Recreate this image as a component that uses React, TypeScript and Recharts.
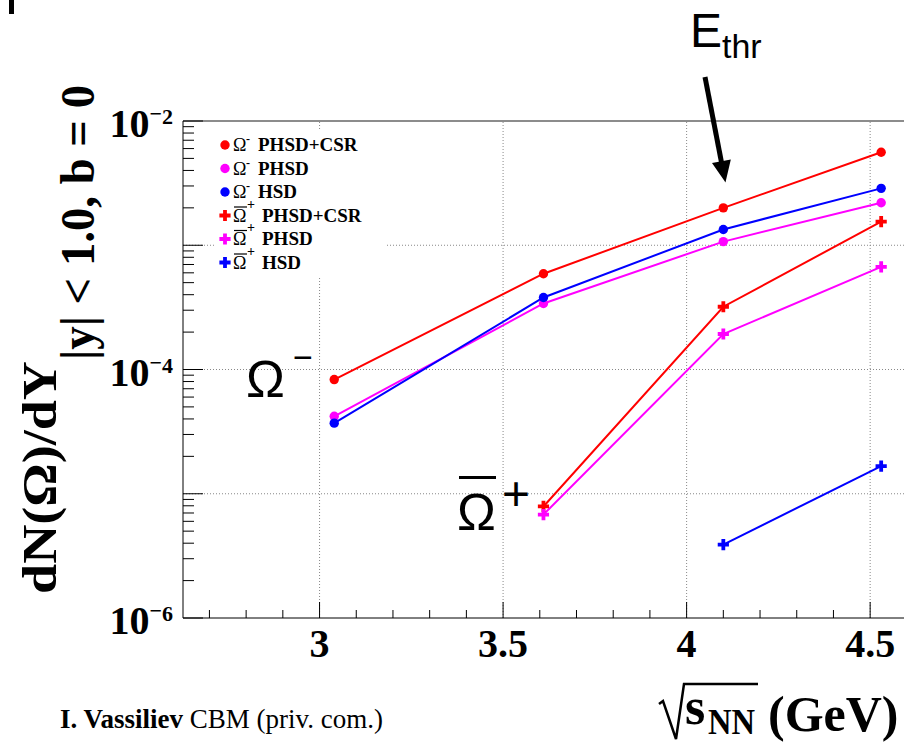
import React from "react";
import { LineChart, Line, XAxis, YAxis, ReferenceLine } from "recharts";

// sqrt(s_NN) in GeV
const energies = [3.04, 3.61, 4.1, 4.53];

// dN/dY of Omega- and anti-Omega+
const omegaCsr = [8.3e-5, 5.9e-4, 2.0e-3, 5.6e-3];
const omegaPhsd = [4.2e-5, 3.4e-4, 1.07e-3, 2.2e-3];
const omegaHsd = [3.7e-5, 3.8e-4, 1.34e-3, 2.87e-3];
const antiCsr = [null, 7.9e-6, 3.2e-4, 1.55e-3];
const antiPhsd = [null, 6.8e-6, 1.93e-4, 6.7e-4];
const antiHsd = [null, null, 3.9e-6, 1.67e-5];

const xMajorTicks = [3, 3.5, 4, 4.5];
const xMinorTicks = [2.7, 2.8, 2.9, 3.1, 3.2, 3.3, 3.4, 3.6, 3.7, 3.8, 3.9, 4.1, 4.2, 4.3, 4.4, 4.6];
const yDecades = [1e-6, 1e-5, 1e-4, 1e-3, 1e-2];
const yLabelled = [1e-6, 1e-4, 1e-2];
const yMinorSteps = [2, 3, 4, 5, 6, 7, 8, 9];

const seriesKeys = ["omegaCsr", "omegaPhsd", "omegaHsd", "antiCsr", "antiPhsd", "antiHsd"];
const seriesValues = [omegaCsr, omegaPhsd, omegaHsd, antiCsr, antiPhsd, antiHsd];
const seriesColors = ["#ff0000", "#ff00ff", "#0000ff", "#ff0000", "#ff00ff", "#0000ff"];
const seriesLabels = ["PHSD+CSR", "PHSD", "HSD", "PHSD+CSR", "PHSD", "HSD"];
const seriesAnti = [false, false, false, true, true, true];

const rows = energies.map((e, i) => {
  const row: any = { e };
  seriesKeys.forEach((k, j) => (row[k] = seriesValues[j][i]));
  return row;
});

const yTicks = [
  ...yDecades,
  ...yDecades.slice(0, -1).flatMap((d) => yMinorSteps.map((s) => s * d)),
];
const xTicks = [...xMajorTicks, ...xMinorTicks];

const SERIF = "'Liberation Serif', 'Times New Roman', serif";
const SANS = "'Liberation Sans', Arial, sans-serif";

function Marker({ cx, cy, color, anti }: any) {
  if (anti) {
    const a = 1.9;
    const b = 5.6;
    const d = `M${cx - a},${cy - b}H${cx + a}V${cy - a}H${cx + b}V${cy + a}H${cx + a}V${cy + b}H${cx - a}V${cy + a}H${cx - b}V${cy - a}H${cx - a}Z`;
    return <path d={d} fill={color} />;
  }
  return <circle cx={cx} cy={cy} r={4.7} fill={color} />;
}

function XTick({ x, y, payload }: any) {
  const v = payload.value;
  const major = xMajorTicks.some((t) => Math.abs(t - v) < 1e-6);
  return (
    <g>
      <line x1={x} x2={x} y1={y} y2={y - (major ? 16 : 8)} stroke="#000" strokeWidth={1} />
      {major && (
        <text x={x} y={y + 39} textAnchor="middle" fontFamily={SERIF} fontWeight="bold" fontSize={40} fill="#000">
          {v}
        </text>
      )}
    </g>
  );
}

function YTick({ x, y, payload }: any) {
  const v = payload.value;
  const exp = Math.round(Math.log10(v));
  const major = yDecades.some((d) => Math.abs(d - v) < v * 1e-6);
  const lab = yLabelled.some((d) => Math.abs(d - v) < v * 1e-6);
  return (
    <g>
      <line x1={x} x2={x + (major ? 20 : 11)} y1={y} y2={y} stroke="#000" strokeWidth={1} />
      {lab && (
        <text x={x - 10} y={y + 16} textAnchor="end" fontFamily={SERIF} fontWeight="bold" fill="#000">
          <tspan fontSize={40}>10</tspan>
          <tspan fontSize={22} dy={-16}>−</tspan>
          <tspan fontSize={22} dy={3}>{Math.abs(exp)}</tspan>
        </text>
      )}
    </g>
  );
}

function LegendBox() {
  return (
    <g>
      <rect x={215} y={130} width={172} height={146} fill="#fff" />
      {seriesKeys.map((k, i) => {
        const cy = 145 + i * 23.5;
        const anti = seriesAnti[i];
        return (
          <g key={k}>
            <Marker cx={225} cy={cy} color={seriesColors[i]} anti={anti} />
            <text x={233} y={cy + 6} fontFamily={SERIF} fontSize={18} fill="#000">Ω</text>
            {anti ? (
              <>
                <line x1={234} x2={247} y1={cy - 8.5} y2={cy - 8.5} stroke="#000" strokeWidth={1.2} />
                <text x={247} y={cy - 7} fontFamily={SERIF} fontSize={14} fontWeight="bold" fill="#000">+</text>
              </>
            ) : (
              <text x={246} y={cy - 2} fontFamily={SERIF} fontSize={12} fontWeight="bold" fill="#000">-</text>
            )}
            <text x={anti ? 262 : 258} y={cy + 6} fontFamily={SERIF} fontSize={19} fontWeight="bold" fill="#000">
              {seriesLabels[i]}
            </text>
          </g>
        );
      })}
    </g>
  );
}

export default function App() {
  return (
    <div style={{ position: "absolute", left: 0, top: 0, width: 904, height: 742, overflow: "hidden", background: "#fff" }}>
      <LineChart width={1000} height={742} data={rows} margin={{ top: 121, right: 59, bottom: 94, left: 123 }}>
        <XAxis
          type="number"
          dataKey="e"
          domain={[2.628, 4.693]}
          ticks={xTicks}
          interval={0}
          allowDataOverflow
          tickSize={0}
          tickMargin={0}
          tickLine={false}
          axisLine={{ stroke: "#000", strokeWidth: 1 }}
          tick={<XTick />}
          height={30}
        />
        <YAxis
          scale="log"
          domain={[1e-6, 1e-2]}
          ticks={yTicks}
          interval={0}
          allowDataOverflow
          tickSize={0}
          tickMargin={0}
          tickLine={false}
          axisLine={{ stroke: "#000", strokeWidth: 1 }}
          tick={<YTick />}
          width={60}
        />
        {[1e-5, 1e-4, 1e-3].map((v) => (
          <ReferenceLine key={`gy${v}`} y={v} stroke="#888" strokeDasharray="1 2" />
        ))}
        {xMajorTicks.map((v) => (
          <ReferenceLine key={`gx${v}`} x={v} stroke="#888" strokeDasharray="1 2" />
        ))}
        <ReferenceLine y={1e-2} stroke="#666" strokeWidth={1.5} />
        {seriesKeys.map((k, i) => (
          <Line
            key={k}
            dataKey={k}
            stroke={seriesColors[i]}
            strokeWidth={2}
            connectNulls={false}
            isAnimationActive={false}
            dot={(p: any) =>
              p.cx == null || p.cy == null || p.value == null ? (
                <g key={`${k}-${p.index}`} />
              ) : (
                <Marker key={`${k}-${p.index}`} cx={p.cx} cy={p.cy} color={seriesColors[i]} anti={seriesAnti[i]} />
              )
            }
            activeDot={false}
          />
        ))}
      </LineChart>
      <svg width={904} height={742} style={{ position: "absolute", left: 0, top: 0, pointerEvents: "none" }}>
        <LegendBox />
        <rect x={9} y={0} width={5} height={14} fill="#000" />
        {/* threshold arrow */}
        <text x={690} y={47} fontFamily={SANS} fontSize={48} fill="#000">
          E<tspan fontSize={34} dy={11}>thr</tspan>
        </text>
        <line x1={705} y1={77} x2={722} y2={165} stroke="#000" strokeWidth={5} />
        <polygon points="725,180 713.7,163.8 729.5,160.8" fill="#000" stroke="#000" strokeWidth={2} />
        {/* particle labels */}
        <text x={246} y={397} fontFamily={SANS} fontSize={52} fill="#000">Ω</text>
        <text x={293} y={369} fontFamily={SANS} fontSize={34} fill="#000">−</text>
        <text x={457} y={530} fontFamily={SANS} fontSize={52} fill="#000">Ω</text>
        <rect x={459} y={476} width={37} height={3} fill="#000" />
        <text x={516} y={510} textAnchor="middle" fontFamily={SANS} fontSize={48} fill="#000">+</text>
        {/* y title */}
        <text transform="translate(56,594) rotate(-90)" fontFamily={SERIF} fontWeight="bold" fontSize={48} textLength={233} lengthAdjust="spacingAndGlyphs" fill="#000">
          dN(Ω)/dY
        </text>
        <text transform="translate(94,360) rotate(-90)" fontFamily={SERIF} fontWeight="bold" fontSize={48} textLength={275} lengthAdjust="spacingAndGlyphs" fill="#000">
          |y| &lt; 1.0, b = 0
        </text>
        {/* x title */}
        <path d="M659,704 L663,701 L676,739 L684,684 L758,684" fill="none" stroke="#000" strokeWidth={2.5} />
        <text x={685} y={724} fontFamily={SERIF} fontWeight="bold" fontSize={52} fill="#000">s</text>
        <text x={708} y={734} fontFamily={SERIF} fontWeight="bold" fontSize={36} textLength={47} lengthAdjust="spacingAndGlyphs" fill="#000">NN</text>
        <text x={768} y={731} fontFamily={SERIF} fontWeight="bold" fontSize={50} fill="#000">(GeV)</text>
        {/* credit */}
        <text x={60} y={728} fontFamily={SERIF} fontSize={27} fill="#000">
          <tspan fontWeight="bold">I. Vassiliev</tspan> CBM (priv. com.)
        </text>
      </svg>
    </div>
  );
}
